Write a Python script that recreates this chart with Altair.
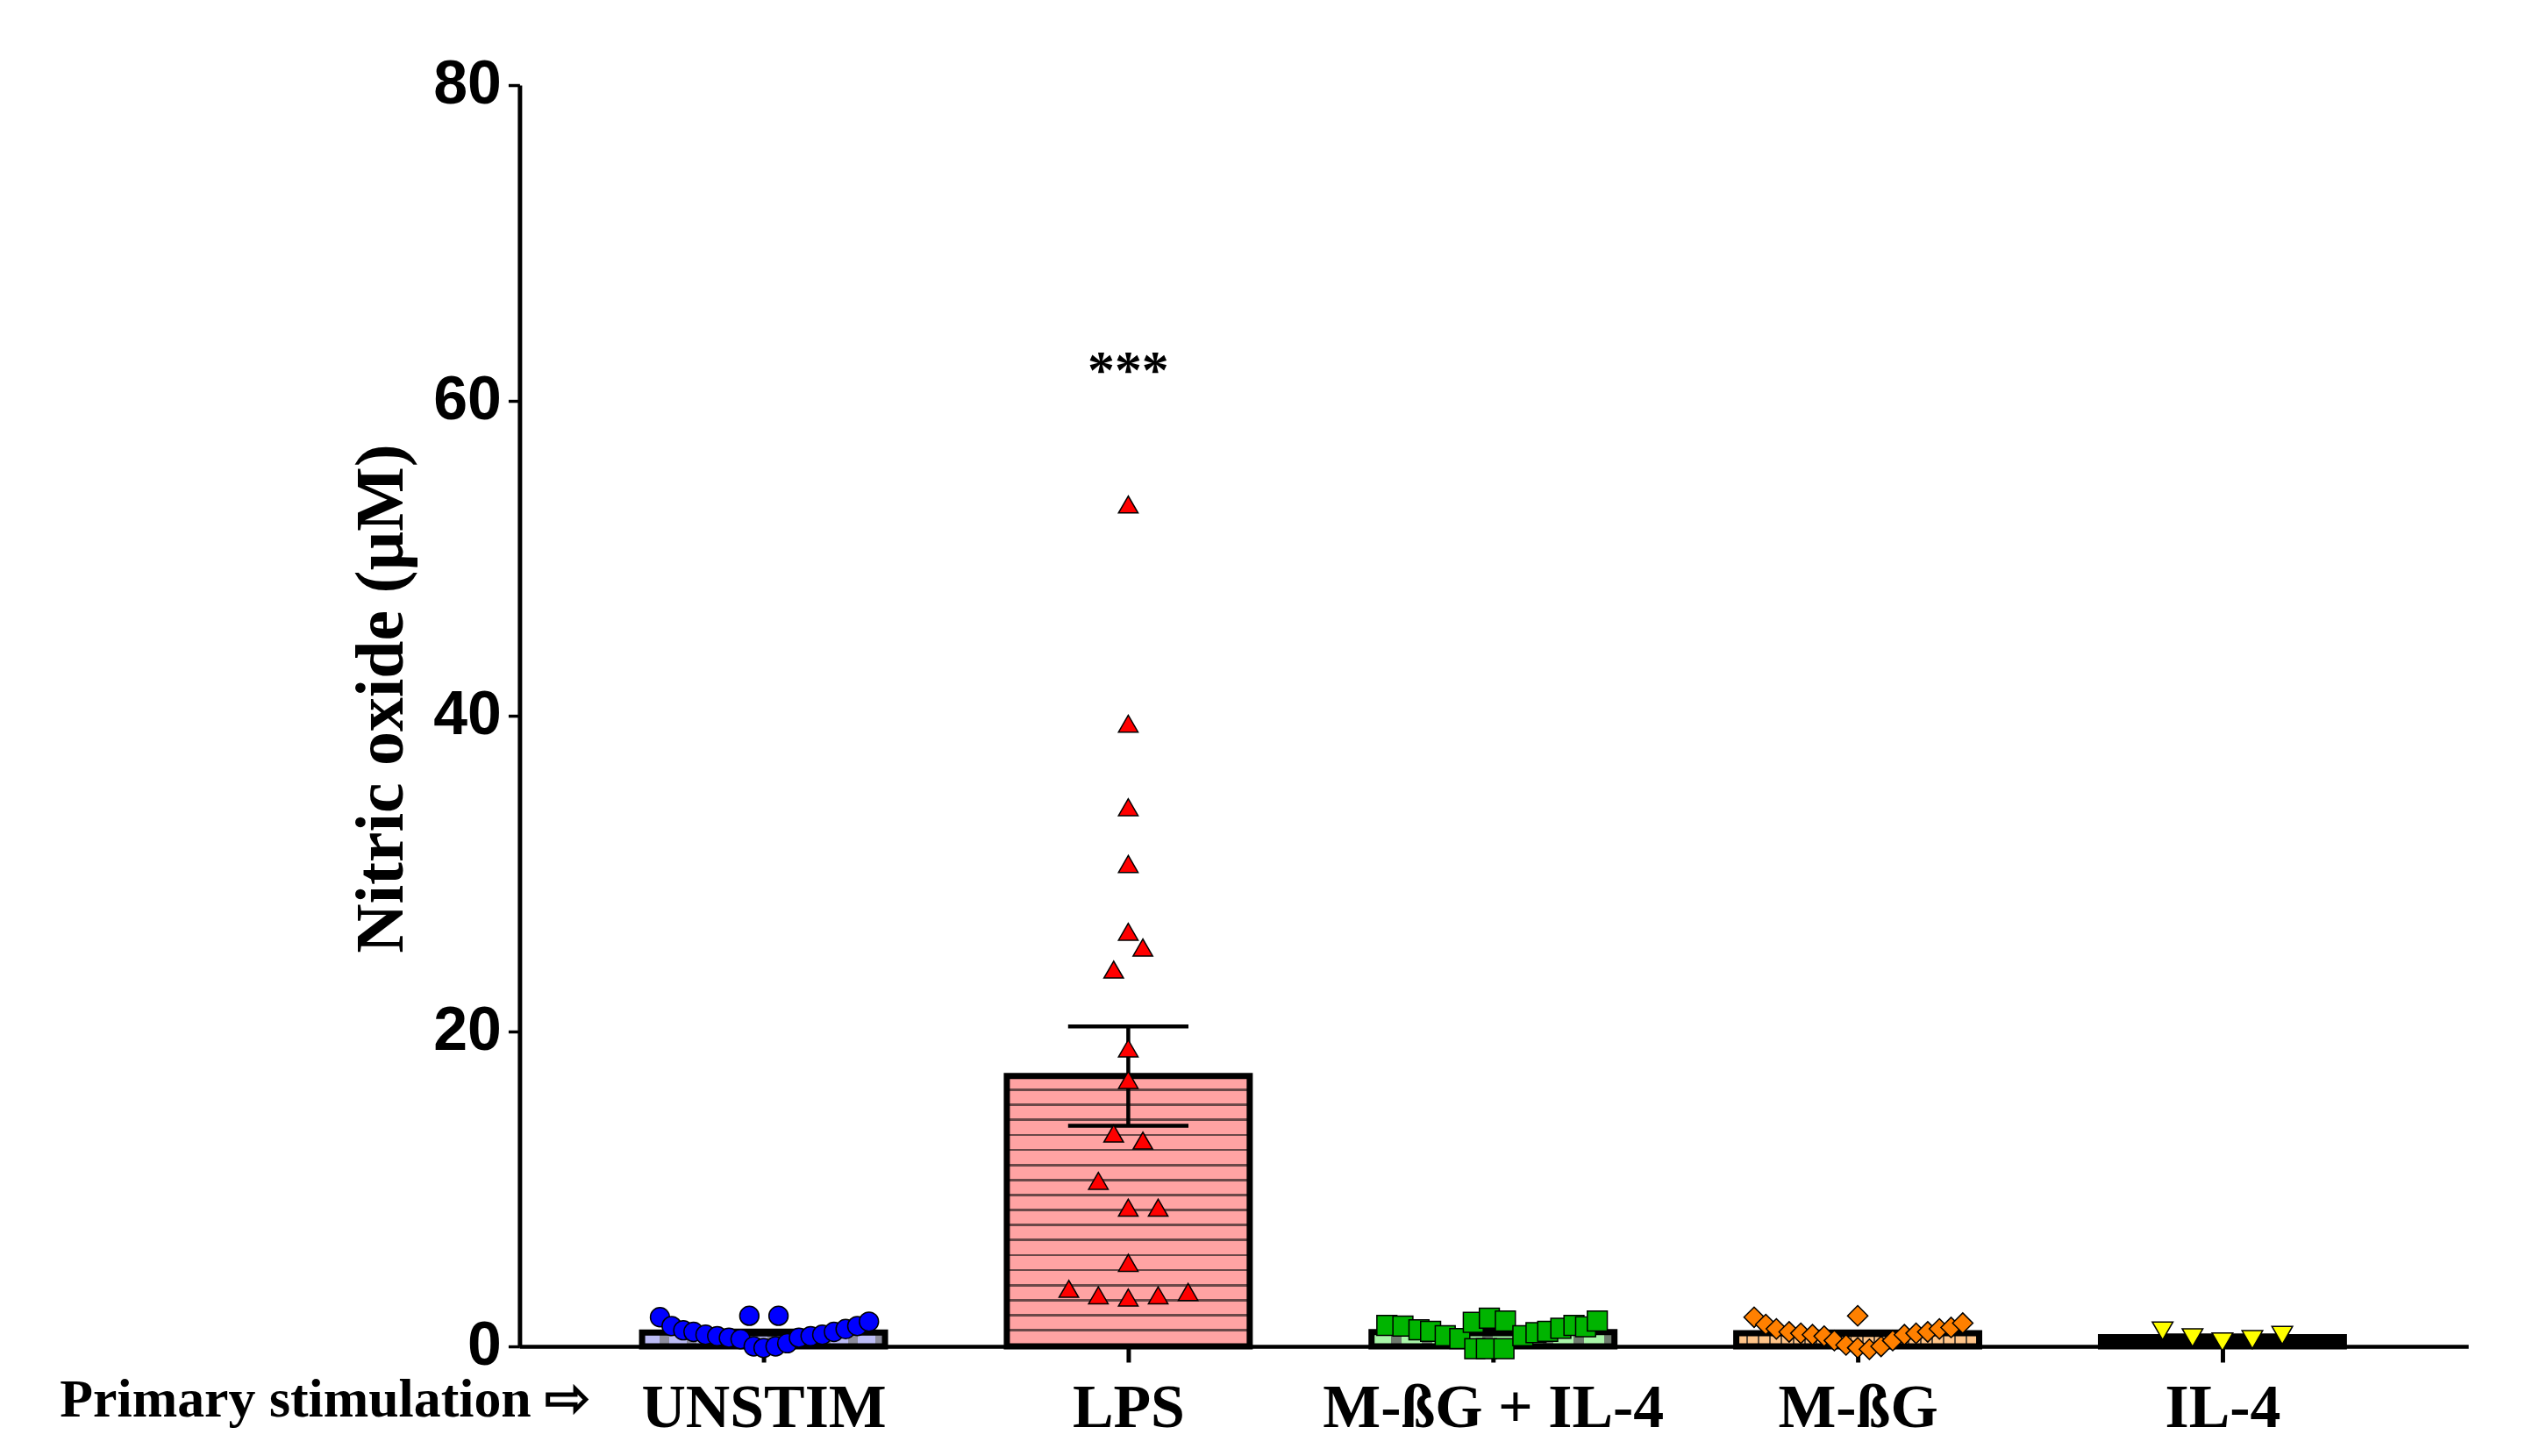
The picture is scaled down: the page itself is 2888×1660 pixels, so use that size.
import json
import altair as alt
import pandas as pd

# ---------------- data ----------------
groups = ["UNSTIM", "LPS", "M-ßG + IL-4", "M-ßG", "IL-4"]
bar_means = [0.88, 17.15, 0.90, 0.84, 0.58]
bar_sems = [0.13, 3.15, 0.13, 0.11, 0.12]

# individual replicates (value, horizontal spread within the group in category steps)
unstim_values = [1.85, 1.29, 1.02, 0.92, 0.74, 0.65, 0.55, 0.46, 1.94, 1.94, 0.0,
                 -0.1, 0.0, 0.2, 0.55, 0.65, 0.74, 0.92, 1.1, 1.29, 1.57]
unstim_spread = [-0.284, -0.252, -0.220, -0.192, -0.159, -0.127, -0.095, -0.063, -0.039, 0.041, -0.027,
                 0.0, 0.033, 0.065, 0.097, 0.129, 0.161, 0.193, 0.225, 0.257, 0.289]

lps_values = [53.4, 39.5, 34.2, 30.6, 26.3, 25.3, 23.9, 18.9, 16.9, 13.5, 13.05,
              10.5, 8.8, 8.8, 5.3, 3.65, 3.24, 3.1, 3.24, 3.45]
lps_spread = [0.0, 0.0, 0.0, 0.0, 0.0, 0.04, -0.04, 0.0, 0.0, -0.04, 0.04,
              -0.082, 0.0, 0.082, 0.0, -0.163, -0.082, 0.0, 0.082, 0.164]

mbg_il4_values = [1.33, 1.29, 1.05, 0.96, 0.68, 0.5, 1.52, 1.79, 1.61, -0.15,
                  -0.15, -0.15, 0.68, 0.87, 0.96, 1.15, 1.33, 1.24, 1.61]
mbg_il4_spread = [-0.291, -0.247, -0.203, -0.171, -0.131, -0.091, -0.054, -0.010, 0.034, -0.050,
                  -0.018, 0.030, 0.082, 0.118, 0.150, 0.186, 0.222, 0.254, 0.286]

mbg_values = [1.85, 1.39, 1.11, 0.92, 0.83, 0.74, 0.65, 0.37, 0.09, -0.09,
              1.94, -0.18, 0.0, 0.37, 0.74, 0.83, 0.92, 1.11, 1.2, 1.48]
mbg_spread = [-0.284, -0.252, -0.223, -0.188, -0.156, -0.124, -0.092, -0.064, -0.032, 0.0,
              0.0, 0.032, 0.064, 0.096, 0.128, 0.160, 0.192, 0.224, 0.256, 0.288]

il4_values = [0.98, 0.55, 0.28, 0.43, 0.70]
il4_spread = [-0.164, -0.082, 0.0, 0.082, 0.164]

sig_labels = ["", "***", "", "", ""]
sig_y = [None, 60.8, None, None, None]

# ---------------- styles ----------------
point_shapes = ["circle", "triangle-up", "square", "diamond", "triangle-down"]
point_fills = ["#0000FF", "#FF0000", "#00B400", "#FF8000", "#FFFF00"]
point_sizes = [480, 560, 440, 430, 560]
BAR_HALF = 0.333
CAP_HALF = 0.165


def stripes(c1, c2, n, dark_frac, vertical=True):
    stops = []
    for k in range(n):
        a = k / n
        b = (k + 1 - dark_frac) / n
        c = (k + 1) / n
        stops += [{"offset": a, "color": c1}, {"offset": b, "color": c1},
                  {"offset": b, "color": c2}, {"offset": c, "color": c2}]
    return {"gradient": "linear", "x1": 0, "y1": 0,
            "x2": 0 if vertical else 1, "y2": 1 if vertical else 0, "stops": stops}


bar_fills = [
    stripes("#BBBBF5", "#8C8C9C", 9, 0.35, vertical=False),
    stripes("#FFA3A3", "#6A4848", 18, 0.16, vertical=True),
    stripes("#A8F5A8", "#6E7A6E", 8, 0.35, vertical=False),
    stripes("#FFC488", "#5A4A3A", 21, 0.15, vertical=False),
    "#000000",
]

# ---------------- tables ----------------
all_values = [unstim_values, lps_values, mbg_il4_values, mbg_values, il4_values]
all_spread = [unstim_spread, lps_spread, mbg_il4_spread, mbg_spread, il4_spread]
rows = []
for i, (vals, offs) in enumerate(zip(all_values, all_spread)):
    for v, o in zip(vals, offs):
        rows.append({"group": groups[i], "pos": i + o, "value": v})
points_df = pd.DataFrame(rows)

bars_df = pd.DataFrame({"group": groups, "pos": list(range(len(groups))),
                        "mean": bar_means, "sem": bar_sems})
bars_df["left"] = bars_df["pos"] - BAR_HALF
bars_df["right"] = bars_df["pos"] + BAR_HALF
bars_df["capL"] = bars_df["pos"] - CAP_HALF
bars_df["capR"] = bars_df["pos"] + CAP_HALF
bars_df["lo"] = bars_df["mean"] - bars_df["sem"]
bars_df["hi"] = bars_df["mean"] + bars_df["sem"]
bars_df["zero"] = 0.0

sig_df = pd.DataFrame({"pos": list(range(len(groups))), "label": sig_labels, "y": sig_y})
sig_df = sig_df[sig_df["label"] != ""]

# ---------------- scales / axes ----------------
xscale = alt.Scale(domain=[-0.669, 4.674], nice=False, zero=False)
yscale = alt.Scale(domain=[0, 80], nice=False, zero=True)
label_expr = json.dumps(groups) + "[datum.value]"

xaxis = alt.Axis(values=[0, 1, 2, 3, 4], labelExpr=label_expr,
                 title="Primary stimulation ⇨",
                 titleFont="Liberation Serif", titleFontSize=62, titleFontWeight="bold",
                 titleColor="black", titleAlign="left", titleAnchor="start",
                 titleX=-526, titleY=80, titleBaseline="alphabetic", titleLimit=0,
                 labelFont="Liberation Serif", labelFontSize=70, labelFontWeight="bold",
                 labelColor="black", labelBaseline="alphabetic", labelPadding=74,
                 labelAngle=0, labelOverlap=False, labelFlush=False, labelLimit=0,
                 tickSize=18, tickWidth=5, tickColor="black",
                 domainColor="black", domainWidth=4.5, grid=False)

yaxis = alt.Axis(values=[0, 20, 40, 60, 80], title="Nitric oxide (µM)",
                 titleFont="Liberation Serif", titleFontSize=78, titleFontWeight="bold",
                 titleColor="black", titleX=-134, titleY=701, titleAngle=270,
                 titleAlign="center", titleBaseline="alphabetic", titleLimit=0,
                 labelFont="Liberation Sans", labelFontSize=70, labelFontWeight="bold",
                 labelColor="black", labelPadding=8, labelFlush=False, labelLimit=0,
                 tickSize=13, tickWidth=3.5, tickColor="black",
                 domainColor="black", domainWidth=5, grid=False)


def X(field):
    return alt.X(f"{field}:Q", scale=xscale, axis=xaxis)


def Y(field):
    return alt.Y(f"{field}:Q", scale=yscale, axis=yaxis)


layers = []
for g, fill in zip(groups, bar_fills):
    layers.append(
        alt.Chart(bars_df).transform_filter(alt.datum.group == g)
        .mark_rect(fill=fill, stroke="black", strokeWidth=7, strokeJoin="miter")
        .encode(x=X("left"), x2="right", y=Y("mean"), y2="zero")
    )

stems = alt.Chart(bars_df).mark_rule(color="black", strokeWidth=4.5).encode(
    x=X("pos"), y=Y("lo"), y2="hi")
cap_hi = alt.Chart(bars_df).mark_rule(color="black", strokeWidth=4.5).encode(
    x=X("capL"), x2="capR", y=Y("hi"))
cap_lo = alt.Chart(bars_df).mark_rule(color="black", strokeWidth=4.5).encode(
    x=X("capL"), x2="capR", y=Y("lo"))
layers += [stems, cap_hi, cap_lo]

pts = alt.Chart(points_df).mark_point(filled=True, stroke="black", strokeWidth=1.5,
                                      opacity=1, fillOpacity=1).encode(
    x=X("pos"), y=Y("value"),
    shape=alt.Shape("group:N", scale=alt.Scale(domain=groups, range=point_shapes), legend=None),
    fill=alt.Fill("group:N", scale=alt.Scale(domain=groups, range=point_fills), legend=None),
    size=alt.Size("group:N", scale=alt.Scale(domain=groups, range=point_sizes), legend=None),
)
layers.append(pts)

sig = alt.Chart(sig_df).mark_text(font="Liberation Serif", fontSize=62, fontWeight="bold",
                                  color="black", align="center", baseline="alphabetic").encode(
    x=X("pos"), y=Y("y"), text="label:N")
layers.append(sig)

chart = alt.layer(*layers).properties(
    width=2228, height=1442,
    autosize=alt.AutoSizeParams(type="none"),
    padding={"left": 586, "top": 87, "right": 66, "bottom": 115},
).configure_view(stroke=None).configure_axis(grid=False)

chart.save("out.html", embed_options={"renderer": "svg", "actions": False})
